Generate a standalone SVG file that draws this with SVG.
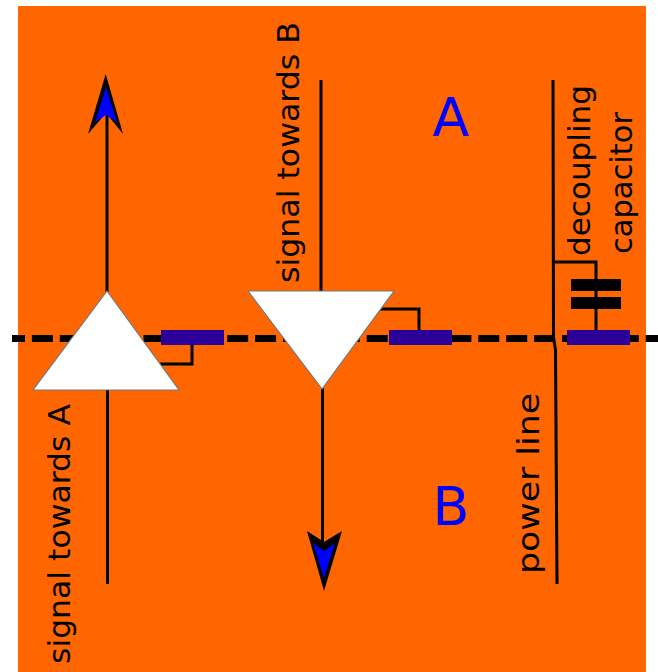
<svg xmlns="http://www.w3.org/2000/svg" width="658" height="672" viewBox="0 0 658 672">
<style>
.w{fill:none;stroke:#000;stroke-width:3}
.t{fill:#000;font-family:"DejaVu Sans",sans-serif;font-size:30px}
.big{fill:#0000ff;font-family:"DejaVu Sans",sans-serif;font-size:54px}
.amp{fill:#fff;stroke:#777;stroke-width:1.2}
.r{fill:#2b0099}
</style>
<rect x="18" y="6" width="628" height="666" fill="#ff6600"/>
<g id="connectors">
<path d="M12 338.5H658" fill="none" stroke="#000" stroke-width="7" stroke-dasharray="21 6.9" stroke-dashoffset="8"/>
<path class="w" d="M107 113V292"/>
<path class="w" d="M107.500 390V584"/>
<path class="w" d="M321 80V292"/>
<path class="w" d="M322.500 388V545"/>
<path class="w" d="M553 80L553.500 338L555.500 350L557 584"/>
<path class="w" d="M160 364H192V338"/>
<path class="w" d="M380 309H419V338"/>
<path class="w" d="M554 262H596V338"/>
</g>
<g id="arrow-up"><path d="M105.700 74L123 134L106 113L88 134Z"/><path fill="#0000ff" d="M106 87L117 122L106 115L95 122Z"/></g>
<g id="arrow-down"><path d="M324 591L342 531L324 542L307 531Z"/><path fill="#0000ff" d="M324 578L335 543L324 551L313 543Z"/></g>
<g id="amp-a"><path class="amp" d="M107 291L179 390H33Z"/></g>
<g id="amp-b"><path class="amp" d="M248 291H394L322 389Z"/></g>
<g id="res-a"><rect class="r" x="161" y="330" width="63" height="15"/></g>
<g id="res-b"><rect class="r" x="389" y="330" width="63" height="15"/></g>
<g id="res-c"><rect class="r" x="567" y="330" width="63" height="15"/></g>
<g id="capacitor">
<rect x="571" y="279" width="50" height="12"/>
<rect x="571" y="297" width="50" height="12"/>
</g>
<g id="labels">
<text class="big" x="451" y="136" text-anchor="middle">A</text>
<text class="big" x="451" y="525" text-anchor="middle">B</text>
<text class="t" transform="translate(70 664) rotate(-90)" textLength="260" lengthAdjust="spacingAndGlyphs">signal towards A</text>
<text class="t" transform="translate(299 283) rotate(-90)" textLength="261" lengthAdjust="spacingAndGlyphs">signal towards B</text>
<text class="t" transform="translate(539 574) rotate(-90)" textLength="181" lengthAdjust="spacingAndGlyphs">power line</text>
<text class="t" transform="translate(590 256) rotate(-90)" textLength="171" lengthAdjust="spacingAndGlyphs">decoupling</text>
<text class="t" transform="translate(632 254) rotate(-90)" textLength="142" lengthAdjust="spacingAndGlyphs">capacitor</text>
</g>
</svg>
